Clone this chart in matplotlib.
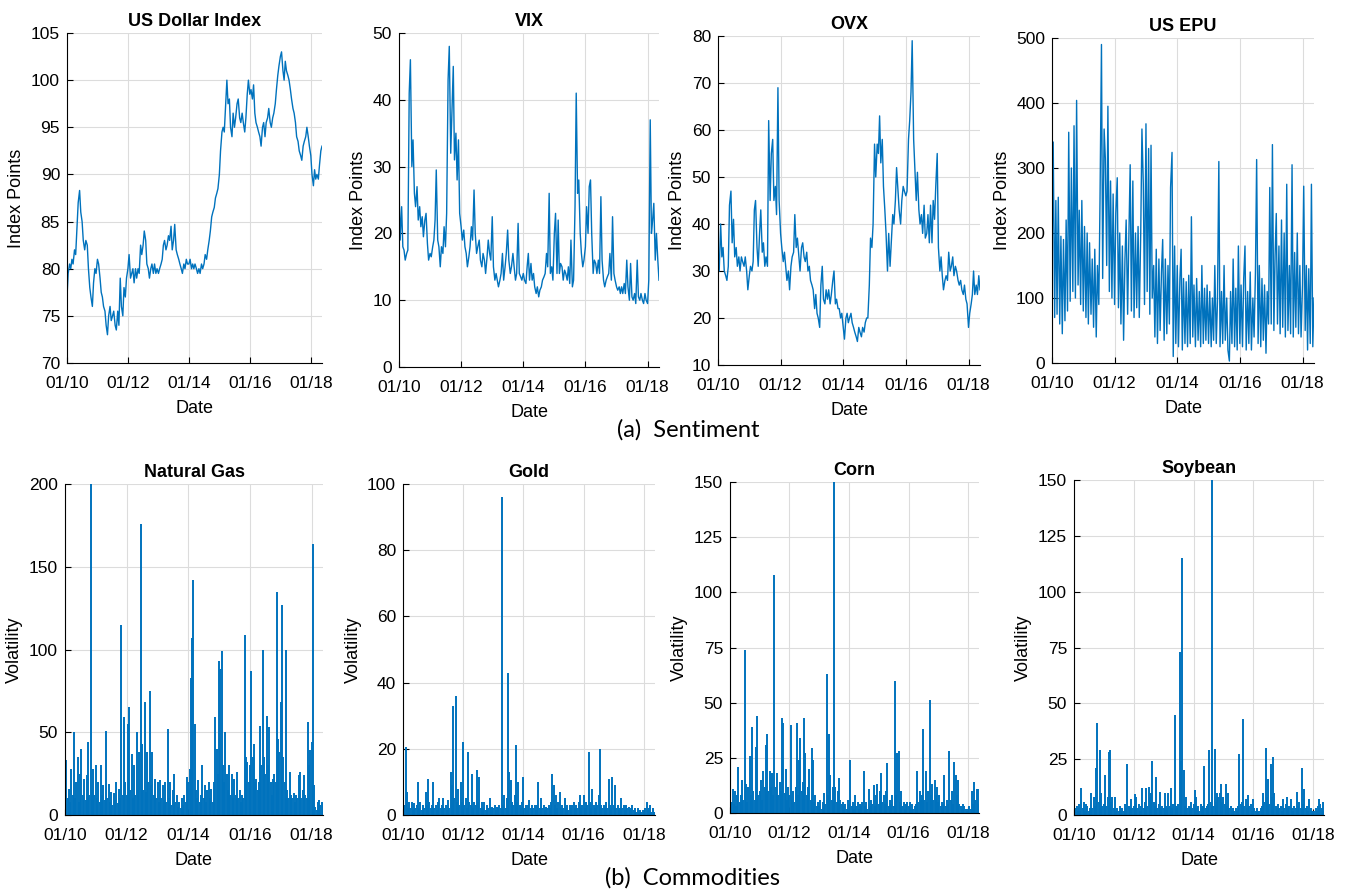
import numpy as np
import pandas as pd
import matplotlib
matplotlib.use('Agg')
import matplotlib.pyplot as plt
import matplotlib.dates as mdates

# semi-monthly sampling, 01/2010 .. 05/2018
dates = pd.date_range('2010-01-01', periods=202, freq='SMS')

# ---- sentiment series (index points) ----
usd_index = [
  77.0, 79.5, 80.5, 80.0, 81.0, 80.5, 82.0, 81.5, 84.5, 87.0, 88.3, 86.0, 85.0, 83.0, 82.0, 83.0, 82.5, 80.0, 78.0, 77.0, 76.0, 78.5, 80.0, 79.5,
  81.0, 80.5, 79.0, 77.5, 77.0, 76.0, 75.5, 74.0, 73.0, 75.0, 76.0, 74.5, 75.0, 75.5, 74.0, 73.5, 75.5, 74.0, 79.0, 76.0, 75.0, 78.0, 77.0, 79.0,
  80.0, 81.5, 79.0, 79.5, 80.0, 78.5, 80.0, 79.0, 80.0, 79.5, 82.5, 81.5, 82.5, 84.0, 83.0, 80.5, 80.0, 79.0, 80.0, 80.5, 79.5, 80.5, 79.5, 80.0,
  79.5, 80.0, 80.5, 81.0, 82.5, 83.0, 82.0, 82.5, 83.5, 83.0, 84.5, 82.0, 83.0, 84.7, 82.0, 81.5, 81.0, 80.5, 80.0, 79.5, 80.5, 80.0, 81.0, 80.5,
  80.5, 81.0, 80.0, 80.5, 80.0, 80.5, 80.0, 79.5, 80.0, 79.5, 80.5, 80.0, 80.5, 81.5, 81.0, 82.0, 83.0, 84.0, 85.5, 86.0, 86.5, 87.5, 88.0, 88.5,
  90.0, 92.5, 94.5, 95.0, 94.5, 97.0, 100.0, 97.5, 98.0, 95.0, 94.0, 96.5, 95.0, 96.0, 97.5, 98.0, 96.0, 95.5, 96.5, 95.5, 94.5, 96.0, 98.5, 100.0,
  98.5, 99.0, 98.0, 99.5, 96.5, 95.5, 95.0, 94.5, 94.0, 93.0, 95.0, 95.5, 94.0, 95.5, 96.0, 97.0, 95.5, 95.0, 96.0, 96.5, 97.5, 99.0, 100.5, 101.5,
  102.5, 103.0, 101.0, 100.0, 102.0, 101.0, 100.5, 100.0, 99.0, 98.0, 97.0, 96.5, 95.5, 94.0, 93.5, 92.5, 92.0, 91.5, 93.0, 93.5, 94.0, 95.0, 94.0, 93.0,
  92.0, 90.0, 88.8, 90.5, 89.5, 90.0, 89.5, 91.0, 92.5, 93.0]

vix = [
  27.0, 19.0, 24.0, 18.0, 17.5, 16.0, 17.0, 17.5, 41.0, 46.0, 30.0, 34.0, 26.0, 24.0, 27.0, 22.0, 24.0, 21.0, 22.5, 19.5, 22.0, 23.0, 18.5, 16.0,
  17.0, 16.5, 18.0, 19.0, 22.0, 29.5, 19.0, 18.0, 15.0, 18.0, 17.0, 21.0, 18.0, 23.0, 43.0, 48.0, 32.0, 38.0, 45.0, 31.0, 35.0, 28.0, 34.0, 23.0,
  21.0, 19.0, 20.5, 18.0, 17.0, 15.0, 16.5, 18.0, 21.0, 19.0, 26.5, 20.0, 17.0, 18.0, 19.0, 16.0, 15.0, 17.0, 16.0, 14.0, 16.5, 19.0, 17.0, 16.0,
  22.5, 15.0, 13.0, 14.0, 13.0, 12.0, 13.0, 14.0, 17.0, 13.0, 15.0, 17.0, 20.5, 16.0, 14.0, 15.0, 17.0, 15.0, 13.0, 14.0, 21.5, 14.0, 13.5, 13.0,
  14.0, 13.0, 12.5, 15.0, 17.0, 13.0, 15.5, 13.0, 14.0, 12.0, 11.0, 12.0, 10.5, 11.5, 12.0, 13.0, 13.5, 14.0, 17.0, 15.0, 26.0, 14.0, 15.0, 13.0,
  20.0, 23.0, 14.0, 22.0, 14.0, 15.5, 15.0, 13.0, 14.5, 14.0, 13.0, 15.0, 12.5, 19.0, 12.0, 13.0, 24.0, 41.0, 26.0, 28.0, 20.0, 17.0, 15.0, 16.0,
  18.0, 24.0, 20.0, 27.0, 28.0, 20.0, 14.0, 16.0, 15.5, 14.0, 16.0, 14.0, 25.5, 16.0, 13.0, 12.0, 13.0, 13.5, 14.0, 17.0, 13.0, 22.5, 14.0, 13.0,
  12.0, 11.5, 12.0, 11.0, 12.0, 11.0, 12.5, 11.0, 16.0, 12.0, 10.0, 15.5, 10.5, 10.0, 11.0, 9.5, 16.0, 10.5, 10.0, 11.0, 10.0, 9.5, 11.0, 10.0,
  9.5, 13.0, 37.0, 20.0, 22.0, 24.5, 16.0, 20.0, 16.0, 13.0]

ovx = [
  34, 30, 40, 33, 35, 30, 29, 28, 31, 44, 47, 36, 41, 33, 35, 31, 33, 30, 33, 32, 31, 33, 30, 26,
  29, 31, 30, 32, 43, 45, 35, 31, 38, 43, 34, 36, 31, 33, 31, 62, 45, 55, 58, 45, 48, 42, 69, 45,
  38, 35, 32, 34, 31, 28, 30, 26, 31, 33, 34, 42, 35, 37, 33, 30, 35, 36, 33, 32, 34, 30, 31, 28,
  27, 26, 22, 25, 21, 20, 18, 27, 31, 24, 23, 26, 24, 26, 23, 25, 28, 30, 23, 24, 22, 22, 20, 21,
  18, 15.5, 20, 21, 19, 20, 21, 19, 18, 17, 16, 15, 18, 17, 16, 18, 17, 19, 20, 20, 27, 37, 35, 40,
  57, 50, 57, 55, 63, 53, 58, 48, 43, 38, 30, 38, 31, 36, 42, 40, 45, 52, 47, 43, 40, 45, 48, 47,
  46, 47, 58, 62, 68, 79, 58, 52, 45, 51, 43, 40, 42, 38, 44, 37, 38, 42, 36, 44, 36, 45, 41, 48,
  55, 35, 30, 33, 29, 26, 28, 29, 28, 34, 30, 31, 33, 29, 31, 30, 28, 27, 28, 26, 25, 27, 24, 23,
  18, 21, 23, 25, 30, 25, 27, 25, 29, 26]

us_epu = [
  150, 340, 70, 250, 75, 255, 60, 195, 45, 190, 65, 220, 80, 355, 95, 300, 110, 365, 100, 404, 120, 235, 90, 250,
  80, 210, 70, 200, 60, 185, 75, 160, 55, 175, 40, 150, 90, 250, 490, 130, 360, 315, 150, 395, 110, 280, 100, 260,
  90, 230, 285, 85, 200, 60, 180, 35, 160, 220, 75, 190, 305, 80, 280, 70, 200, 85, 210, 70, 200, 360, 275, 90,
  368, 110, 330, 75, 335, 100, 150, 40, 175, 30, 160, 50, 140, 190, 35, 160, 45, 150, 60, 270, 324, 10, 180, 30,
  150, 25, 130, 175, 20, 130, 30, 125, 25, 135, 30, 225, 40, 120, 25, 130, 35, 110, 25, 150, 30, 115, 35, 120,
  30, 110, 25, 100, 35, 150, 30, 95, 310, 25, 110, 30, 150, 35, 100, 20, 3, 110, 30, 160, 25, 115, 20, 180,
  30, 120, 25, 130, 180, 20, 110, 30, 140, 20, 100, 40, 140, 313, 30, 150, 25, 130, 35, 120, 15, 110, 60, 270,
  60, 336, 50, 165, 230, 60, 180, 45, 220, 55, 200, 40, 275, 50, 150, 45, 305, 40, 170, 55, 200, 45, 150, 40,
  120, 272, 50, 150, 20, 145, 30, 275, 25, 100]

# ---- commodity volatility series ----
natural_gas = [
  40, 33, 10, 16, 8, 28, 12, 50, 10, 20, 35, 8, 25, 40, 12, 22, 9, 24, 44, 12, 200, 15, 28, 12,
  30, 10, 20, 8, 30, 12, 18, 9, 51, 10, 19, 8, 14, 6, 13, 9, 20, 7, 16, 10, 115, 12, 59, 20,
  12, 55, 65, 15, 37, 10, 30, 12, 50, 15, 38, 176, 43, 15, 68, 14, 38, 20, 75, 18, 38, 12, 22, 10,
  20, 8, 21, 10, 18, 9, 20, 8, 52, 10, 20, 6, 15, 25, 8, 12, 5, 8, 4, 10, 6, 12, 8, 23,
  20, 28, 83, 107, 142, 55, 15, 10, 21, 8, 12, 30, 10, 18, 8, 15, 20, 10, 16, 8, 20, 59, 40, 25,
  93, 88, 99, 30, 20, 50, 25, 15, 30, 12, 25, 10, 22, 12, 26, 10, 15, 8, 12, 10, 109, 35, 32, 20,
  30, 87, 35, 43, 20, 22, 15, 20, 54, 30, 100, 35, 25, 60, 30, 53, 20, 12, 22, 25, 20, 135, 46, 38,
  68, 127, 35, 20, 100, 15, 10, 26, 12, 10, 13, 8, 12, 10, 24, 26, 10, 15, 24, 12, 10, 56, 30, 39,
  44, 164, 18, 5, 3, 8, 9, 6, 8, 7]

gold = [
  6, 3, 20.5, 7, 2, 4, 2, 4, 1.5, 3.5, 2, 3, 10, 2, 4, 1.5, 3, 2, 7, 3, 11, 4, 2, 3,
  10, 2, 3, 1.5, 4, 5, 2, 3, 5, 2, 3, 1.5, 4.5, 2, 13, 9, 33, 5, 36, 4, 8, 3, 10, 4,
  22, 3, 5, 2, 19, 4, 3, 12.5, 2, 4, 3, 13.5, 4, 11.5, 2, 4, 2, 4, 1.5, 3, 2, 5, 2, 2.5,
  2, 3, 1.5, 2.5, 2, 3, 2, 96, 3, 6, 2, 5, 43, 13, 10.5, 4, 3, 6, 21, 4, 10, 3, 2, 4,
  11.5, 2, 3, 1.5, 3, 4.5, 2, 3, 2, 3, 1.5, 3, 10, 2, 5, 2, 3, 1.5, 2.5, 2, 3, 2, 4, 12.5,
  9, 3, 6, 2, 4, 7, 2, 3, 2, 5, 2, 3, 1.5, 3, 2, 3, 4, 2, 3, 2, 4, 6, 2, 3,
  6, 2, 4, 3, 19, 4, 2, 8, 3, 2, 4, 3, 6, 20, 3, 2, 3, 2, 4, 2, 11, 3, 2, 11.5,
  3, 9, 2, 3, 1.5, 2, 5, 2, 3, 1.5, 3, 2, 2.5, 1.5, 2, 3, 1.5, 2, 1, 2, 1, 1.5, 1, 1.5,
  1, 2, 4, 1.5, 2, 3, 1, 2, 1, 0.8]

corn = [
  54, 5, 11, 4, 10, 3, 8, 21, 5, 8, 15, 6, 74, 13, 5, 12, 26, 8, 39, 10, 6, 30, 44, 8,
  10, 15, 6, 19, 12, 31, 36, 10, 19, 12, 18, 8, 108, 12, 18, 8, 14, 10, 43, 41, 9, 20, 6, 12,
  8, 40, 6, 10, 5, 12, 41, 8, 24, 34, 10, 14, 43, 27, 8, 12, 20, 6, 29.5, 24, 5, 8, 3, 5,
  3, 6, 2, 5, 9, 4, 63, 8, 36, 17, 6, 12, 150, 12, 5, 10, 16, 6, 4, 5, 3, 4, 2, 6,
  4, 24, 3, 5, 2, 8, 3, 5, 2, 4, 3, 5, 19, 3, 5, 2, 11, 3, 6, 4, 12.5, 3, 8, 13,
  4, 10, 18, 5, 8, 4, 10, 22.5, 3, 6, 4, 8, 3, 60, 8, 27, 28, 5, 10, 3, 5, 2, 4, 5,
  3, 5, 2, 4, 2, 3, 4, 19, 5, 10, 6, 8, 38, 6, 19, 5, 10, 51, 8, 13, 6, 15, 8, 12,
  5, 8, 3, 5, 4, 17, 3, 6, 4, 28, 6, 10, 4, 23, 17, 8, 15, 4, 3, 2, 4, 3, 2, 1,
  2, 3, 2, 10, 4, 14, 6, 11, 11, 4]

soybean = [
  10, 3, 4, 2, 5, 2, 12, 3, 6, 2, 5, 4, 2, 3, 10, 3, 8, 4, 21, 41, 6, 29, 10, 4,
  5, 18, 4, 8, 28, 29, 6, 8, 3, 8, 2, 3, 2, 4, 2, 3, 2, 5, 3, 23, 4, 3, 7, 3,
  4, 9.5, 8, 3, 5, 2, 4, 12, 3, 6, 12, 4, 12.5, 8, 10, 24, 6, 4, 17, 3, 5, 10.5, 3, 4,
  3, 10, 4, 3, 10, 4, 12, 3, 5, 45, 4, 3, 5, 73, 24, 115, 20, 4, 8, 3, 4, 3, 6, 3,
  5, 11, 8, 3, 4, 2, 5, 3, 4, 22, 3, 4, 5, 29, 6, 150, 4, 29.5, 6, 10, 8, 10, 14, 6,
  8, 5, 14, 4, 10, 3, 4, 2, 3, 2, 3, 2, 4, 27.5, 5, 6, 43, 4, 7, 3, 9, 4, 5, 2,
  7, 3, 2, 3, 1.5, 2, 3, 4, 10, 6, 30, 8, 16, 5, 23, 8, 26, 10, 4, 3, 5, 3, 4, 2,
  7, 3, 5, 8, 3, 4, 7, 3, 2, 4, 3, 10.5, 4, 6, 3, 21, 5, 11.5, 3, 4, 2, 7, 3, 2,
  1.5, 2, 3, 2, 4, 7, 5, 3, 6, 2]

sentiment_titles = ['US Dollar Index', 'VIX', 'OVX', 'US EPU']
sentiment_ylims = [(70, 105, 5), (0, 50, 10), (10, 80, 10), (0, 500, 100)]
commodity_titles = ['Natural Gas', 'Gold', 'Corn', 'Soybean']
commodity_ylims = [(0, 200, 50), (0, 100, 20), (0, 150, 25), (0, 150, 25)]

BLUE = '#0072BD'
W, H = 1349, 894

# axes boxes in pixels: left, top, right, bottom
sentiment_boxes = [(67, 33, 322, 363), (399, 33, 659, 367), (718, 36, 980, 365), (1052, 38, 1314, 363)]
commodity_boxes = [(65, 484, 323, 815), (403, 484, 655, 815), (730, 482, 979, 813), (1074, 480, 1324, 815)]

plt.rcParams['font.family'] = ['Liberation Sans', 'DejaVu Sans']

fig = plt.figure(figsize=(W / 100, H / 100), dpi=100)


def make_axes(box):
  l, t, r, b = box
  return fig.add_axes([l / W, 1 - b / H, (r - l) / W, (b - t) / H])


def style_axes(ax, title, ylab, ylim):
  lo, hi, step = ylim
  ax.set_ylim(lo, hi)
  ax.set_yticks(np.arange(lo, hi + step / 2, step))
  ax.set_xlim(dates[0], dates[-1])
  ax.xaxis.set_major_locator(mdates.YearLocator(2, month=1, day=1))
  ax.xaxis.set_major_formatter(mdates.DateFormatter('%m/%y'))
  ax.set_title(title, fontsize=13, fontweight='bold', pad=5)
  ax.set_xlabel('Date', fontsize=13, labelpad=7)
  ax.set_ylabel(ylab, fontsize=13, labelpad=4)
  ax.spines['top'].set_visible(False)
  ax.spines['right'].set_visible(False)
  ax.tick_params(direction='in', length=4, width=0.8, labelsize=12.5, pad=5)
  ax.tick_params(axis='x', pad=9)
  ax.grid(True, color='#dcdcdc', linewidth=0.8)
  ax.set_axisbelow(True)


# top row: sentiment lines
for box, title, ylim, series in zip(sentiment_boxes, sentiment_titles, sentiment_ylims,
                                    [usd_index, vix, ovx, us_epu]):
  ax = make_axes(box)
  ax.plot(dates, series, color=BLUE, linewidth=1.0)
  style_axes(ax, title, 'Index Points', ylim)

# bottom row: commodity volatility spikes
for box, title, ylim, series in zip(commodity_boxes, commodity_titles, commodity_ylims,
                                    [natural_gas, gold, corn, soybean]):
  ax = make_axes(box)
  ax.vlines(dates, 0, series, color=BLUE, linewidth=1.4)
  style_axes(ax, title, 'Volatility', ylim)

fig.text(688 / W, 1 - 430 / H, '(a)  Sentiment', ha='center', va='center',
         family=['Lato', 'DejaVu Sans'], fontsize=17)
fig.text(692 / W, 1 - 878 / H, '(b)  Commodities', ha='center', va='center',
         family=['Lato', 'DejaVu Sans'], fontsize=17)

fig.savefig('out.png', dpi=100)
